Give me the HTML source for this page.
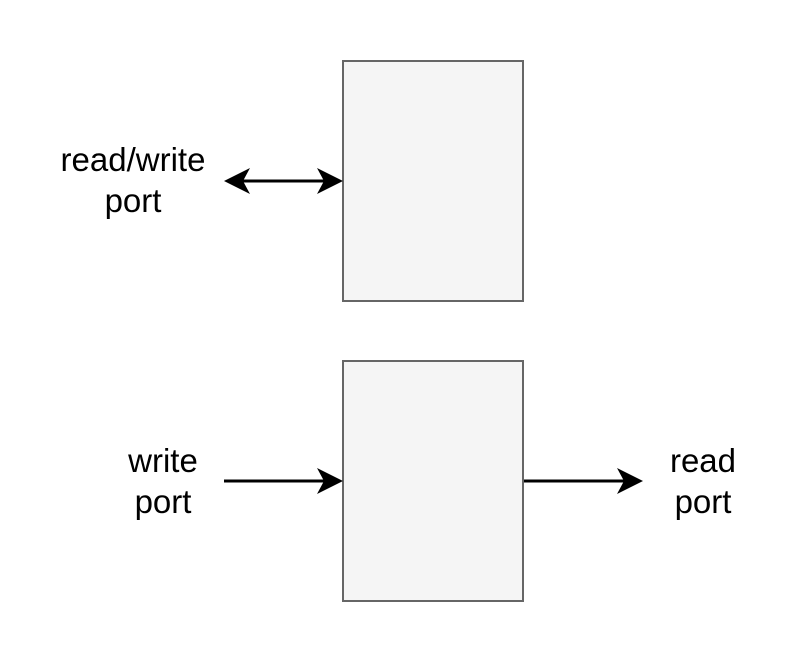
<!DOCTYPE html>
<html><head><style>
body{margin:0;background:#fff;width:795px;height:666px;overflow:hidden}
.t{position:absolute;font-family:"Liberation Sans",sans-serif;font-size:33px;line-height:41px;text-align:center;color:#000;width:200px}
</style></head><body>
<svg width="795" height="666" style="position:absolute;left:0;top:0">
<rect x="343" y="61" width="180" height="240" fill="#f5f5f5" stroke="#666" stroke-width="2"/>
<rect x="343" y="361" width="180" height="240" fill="#f5f5f5" stroke="#666" stroke-width="2"/>
<g stroke="#000" stroke-width="3" fill="none">
<line x1="234" y1="181" x2="333" y2="181"/>
<line x1="224" y1="481" x2="333" y2="481"/>
<line x1="524" y1="481" x2="633" y2="481"/>
</g>
<g fill="#000">
<path d="M224 181 L250 168 L243 181 L250 194 Z"/>
<path d="M343 181 L317 168 L324 181 L317 194 Z"/>
<path d="M343 481 L317 468 L324 481 L317 494 Z"/>
<path d="M643 481 L617 468 L624 481 L617 494 Z"/>
</g>
</svg>
<div class="t" style="left:33px;top:139px">read/write<br>port</div>
<div class="t" style="left:63px;top:440px">write<br>port</div>
<div class="t" style="left:603px;top:440px">read<br>port</div>
</body></html>
